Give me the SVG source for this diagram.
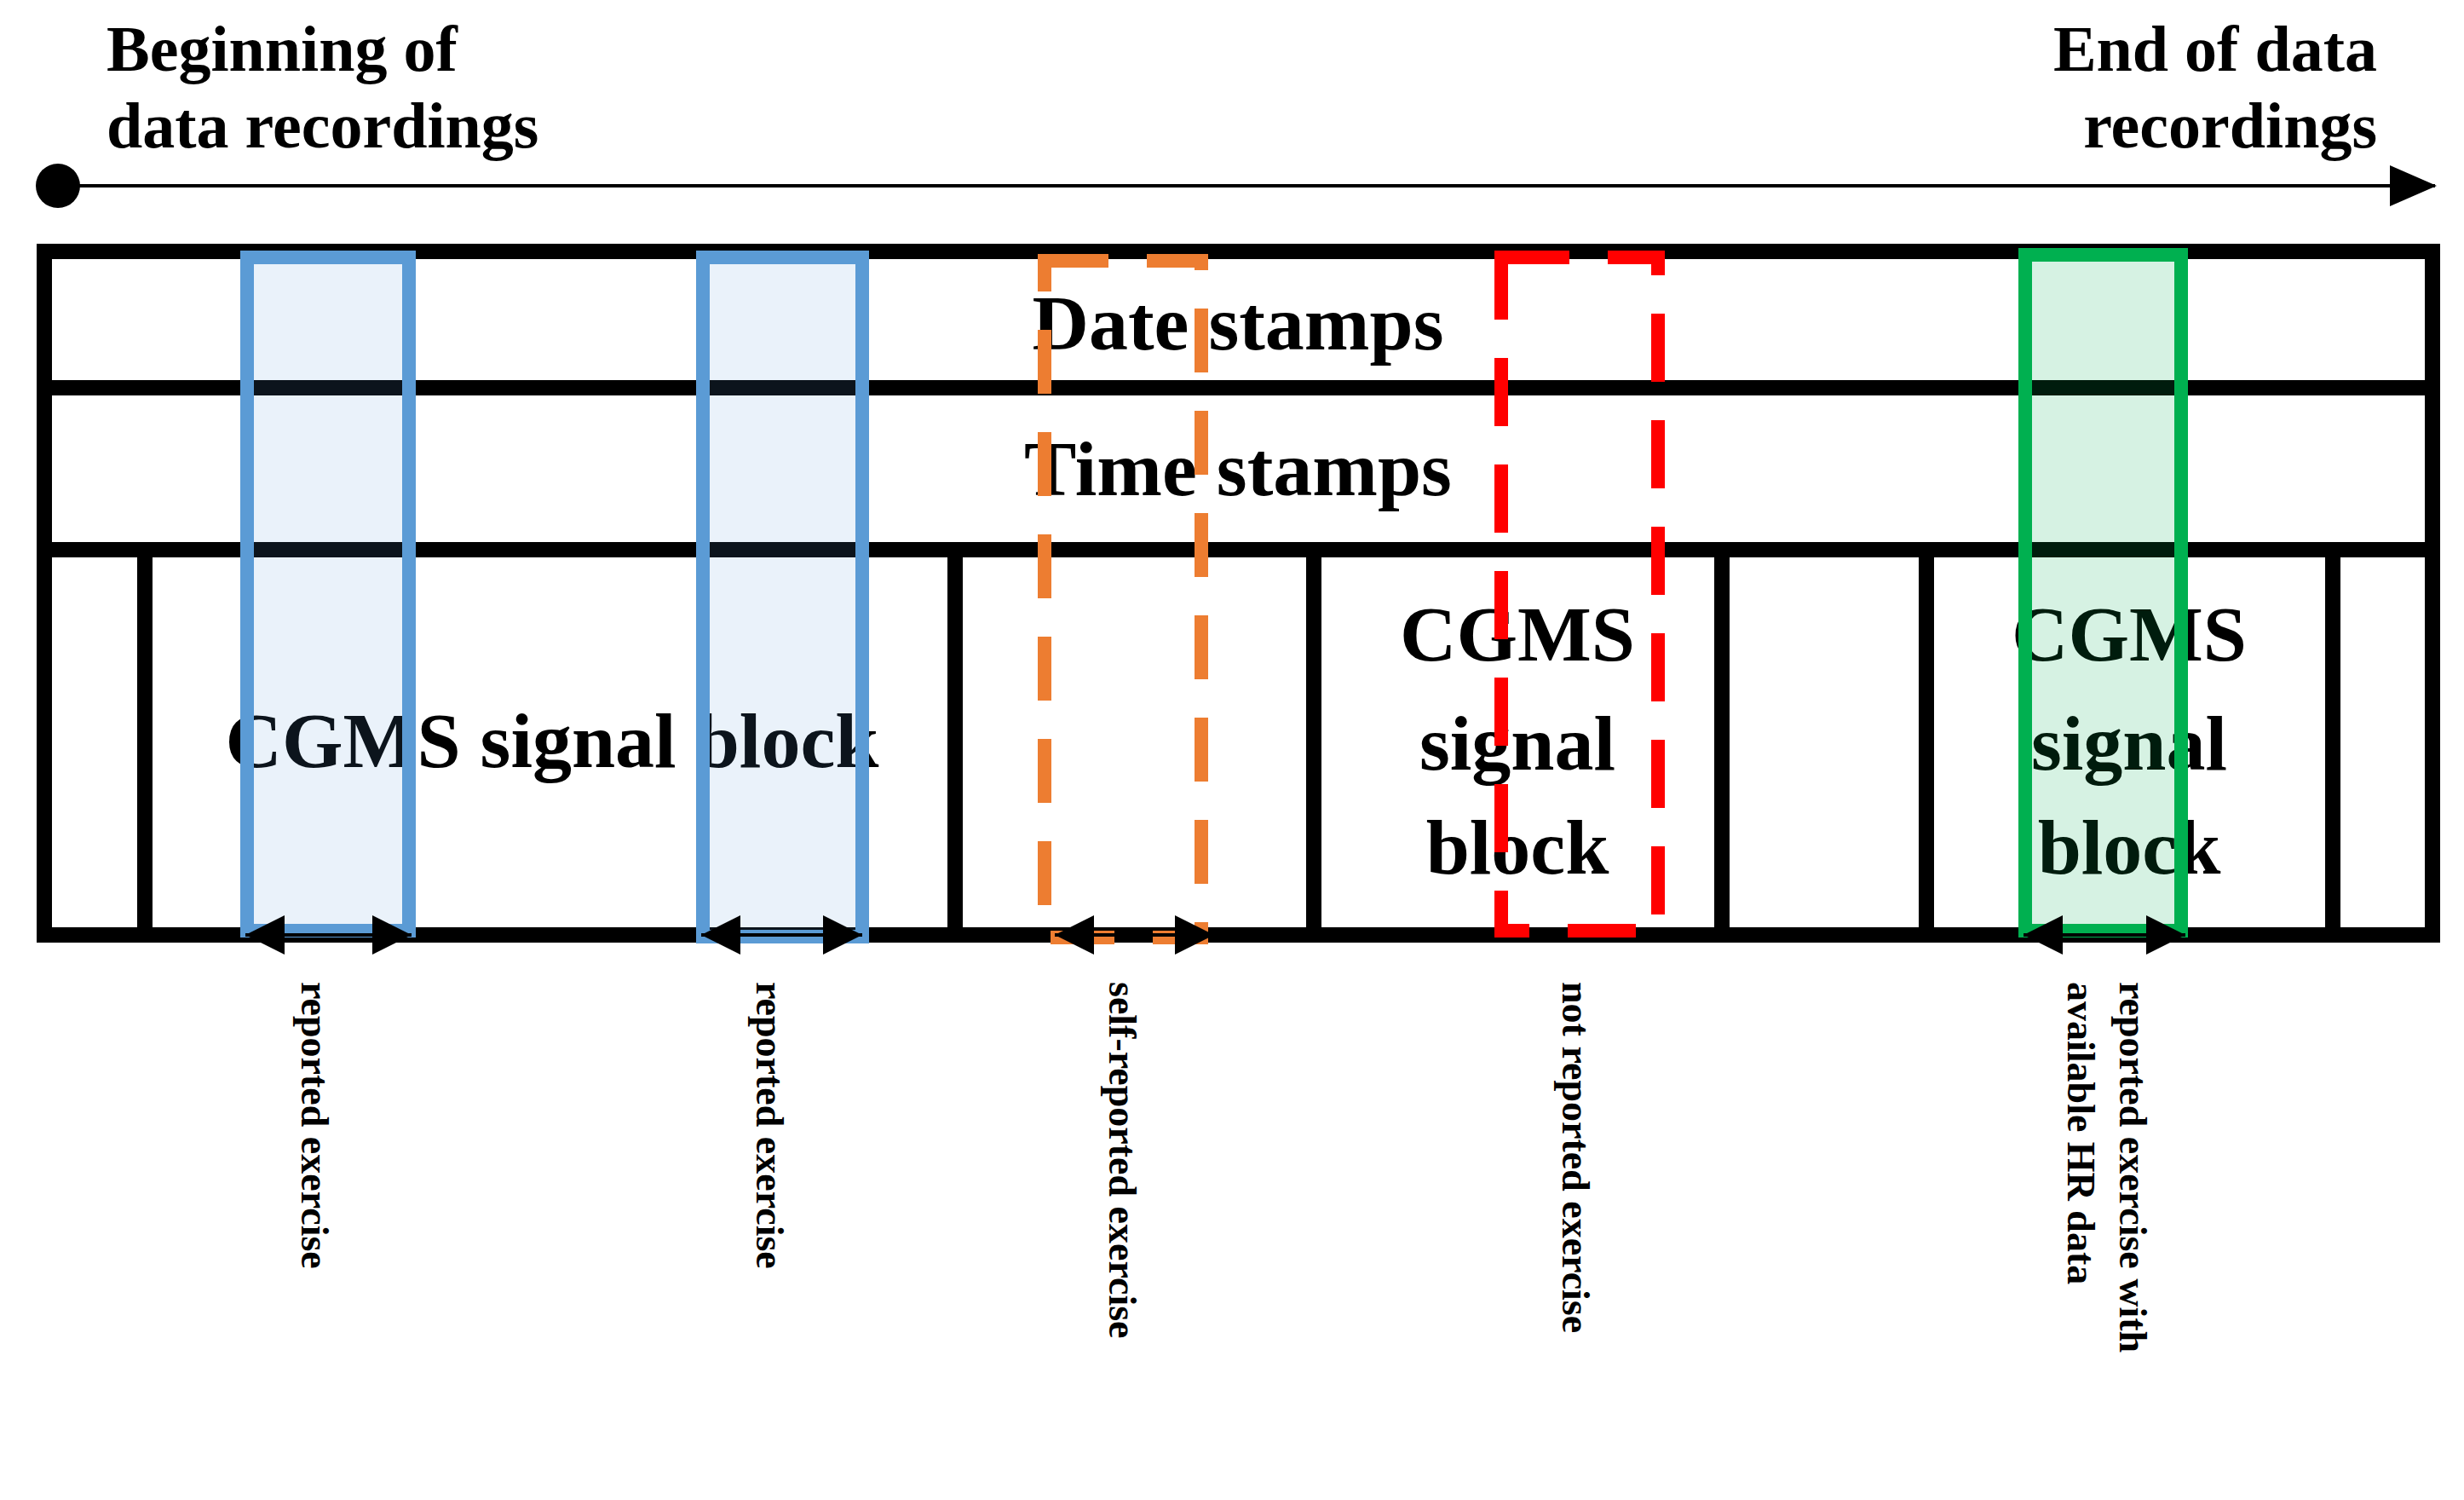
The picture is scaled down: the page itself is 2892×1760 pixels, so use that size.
<svg xmlns="http://www.w3.org/2000/svg" width="2892" height="1760" viewBox="0 0 2892 1760">
<style>
text{font-family:"Liberation Serif","Times New Roman",serif;font-weight:bold;fill:#000}
.t{font-size:76px}
.big{font-size:92px;text-anchor:middle}
.lab{font-size:46px}
.grid{stroke:#000;stroke-width:18;fill:none}
.arr{stroke:#000;stroke-width:4;fill:none}
</style>
<defs>
<marker id="ah" viewBox="0 0 10 10" refX="10" refY="5" markerWidth="14" markerHeight="10" markerUnits="userSpaceOnUse" orient="auto-start-reverse"><path d="M0,0L10,5L0,10Z" fill="#000"/></marker>
<marker id="dh" viewBox="0 0 10 10" refX="10" refY="5" markerWidth="56" markerHeight="46" markerUnits="userSpaceOnUse" orient="auto-start-reverse"><path d="M0,0L10,5L0,10Z" fill="#000"/></marker>
</defs>
<rect width="2892" height="1760" fill="#fff"/>
<g id="timeline">
<circle cx="68" cy="218" r="26" fill="#000"/>
<line x1="68" y1="218" x2="2858" y2="218" stroke="#000" stroke-width="4"/>
<path d="M2805,194L2860,218L2805,242Z" fill="#000"/>
<text class="t" x="125" y="83">Beginning of</text>
<text class="t" x="125" y="173">data recordings</text>
<text class="t" x="2790" y="83" text-anchor="end">End of data</text>
<text class="t" x="2790" y="173" text-anchor="end">recordings</text>
</g>
<g id="table">
<rect class="grid" x="52" y="295" width="2803" height="802"/>
<line class="grid" x1="52" y1="455" x2="2855" y2="455"/>
<line class="grid" x1="52" y1="645" x2="2855" y2="645"/>
<line class="grid" x1="170" y1="645" x2="170" y2="1097"/>
<line class="grid" x1="1121" y1="645" x2="1121" y2="1097"/>
<line class="grid" x1="1542" y1="645" x2="1542" y2="1097"/>
<line class="grid" x1="2021" y1="645" x2="2021" y2="1097"/>
<line class="grid" x1="2261" y1="645" x2="2261" y2="1097"/>
<line class="grid" x1="2738" y1="645" x2="2738" y2="1097"/>
<text class="big" x="1453" y="410">Date stamps</text>
<text class="big" x="1453" y="581">Time stamps</text>
<text class="big" x="648" y="900">CGMS signal block</text>
<text class="big" x="1781" y="775">CGMS</text>
<text class="big" x="1781" y="903">signal</text>
<text class="big" x="1781" y="1025">block</text>
<text class="big" x="2499" y="775">CGMS</text>
<text class="big" x="2499" y="903">signal</text>
<text class="big" x="2499" y="1025">block</text>
</g>
<g id="blue1"><rect x="290" y="302" width="190" height="790" fill="#5b9bd5" fill-opacity="0.13" stroke="#5b9bd5" stroke-width="16"/></g>
<g id="blue2"><rect x="825" y="302" width="187" height="797" fill="#5b9bd5" fill-opacity="0.13" stroke="#5b9bd5" stroke-width="16"/></g>
<g id="orange"><rect x="1226" y="306" width="184" height="794" fill="none" stroke="#ed7d31" stroke-width="16" stroke-dasharray="75 45"/></g>
<g id="red"><rect x="1762" y="302" width="184" height="790" fill="none" stroke="#ff0000" stroke-width="16" stroke-dasharray="80 45"/></g>
<g id="green"><rect x="2377" y="299" width="183" height="793" fill="#00b050" fill-opacity="0.16" stroke="#00b050" stroke-width="16"/></g>
<g id="connectors">
<line class="arr" x1="288" y1="1097" x2="483" y2="1097" marker-start="url(#dh)" marker-end="url(#dh)"/>
<line class="arr" x1="823" y1="1097" x2="1012" y2="1097" marker-start="url(#dh)" marker-end="url(#dh)"/>
<line class="arr" x1="1238" y1="1097" x2="1425" y2="1097" marker-start="url(#dh)" marker-end="url(#dh)"/>
<line class="arr" x1="2375" y1="1097" x2="2565" y2="1097" marker-start="url(#dh)" marker-end="url(#dh)"/>
</g>
<g id="labels">
<text class="lab" transform="translate(354,1152) rotate(90)">reported exercise</text>
<text class="lab" transform="translate(888,1152) rotate(90)">reported exercise</text>
<text class="lab" transform="translate(1302,1152) rotate(90)">self-reported exercise</text>
<text class="lab" transform="translate(1834,1152) rotate(90)">not reported exercise</text>
<text class="lab" transform="translate(2488,1152) rotate(90)">reported exercise with</text>
<text class="lab" transform="translate(2427,1152) rotate(90)">available HR data</text>
</g>
</svg>
